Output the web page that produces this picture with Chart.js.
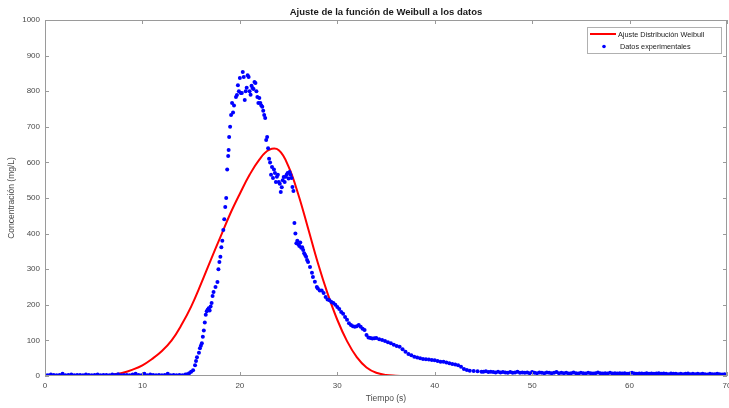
<!DOCTYPE html>
<html><head><meta charset="utf-8">
<script src="https://cdn.jsdelivr.net/npm/chart.js@4/dist/chart.umd.min.js"></script>
<style>html,body{margin:0;padding:0;background:#fff}#wrap{width:729px;height:408px}</style>
</head><body><div id="wrap"><canvas id="c" width="729" height="408"></canvas></div>
<script>
const chartTitle = "Ajuste de la función de Weibull a los datos";
const xTitle = "Tiempo (s)";
const yTitle = "Concentración (mg/L)";
const seriesNames = ["Ajuste Distribución Weibull", "Datos experimentales"];

const xTickValues = [0, 10, 20, 30, 40, 50, 60, 70];
const yTickValues = [0, 100, 200, 300, 400, 500, 600, 700, 800, 900, 1000];

const fitTime  = [0, 1, 2, 3, 4, 5, 6, 7, 8, 9, 10, 11, 12, 13, 14, 15, 16, 17, 18, 19, 20, 21, 22, 23, 24, 25, 26, 27, 28, 29, 30, 31, 32, 33, 34, 35, 36, 37, 38, 39, 40, 50, 60, 70];
const fitValue = [0, 0, 0, 0, 0, 0.3, 1.5, 4, 9, 18, 30, 48, 70, 100, 143, 195, 258, 325, 390, 455, 512, 565, 608, 635, 634, 588, 510, 415, 318, 232, 158, 98, 53, 24, 9, 3, 1, 0, 0, 0, 0, 0, 0, 0];

const dataTime = [
 0,0.3,0.6,0.9,1.2,1.5,1.8,2.1,2.4,2.7,3,3.3,3.6,3.9,4.2,4.5,4.8,5.1,5.4,5.7,6,6.3,6.6,6.9,7.2,7.5,7.8,8.1,8.4,8.7,9,9.3,9.6,9.9,10.2,10.5,10.8,11.1,11.4,11.7,12,12.3,12.6,12.9,13.2,13.5,13.8,14.1,
 14.4,14.6,14.8,15.0,15.2,15.4,15.5,15.6,15.8,15.9,16.0,16.1,16.2,16.3,16.4,16.5,16.6,16.7,16.8,16.9,17.0,17.1,17.2,17.3,17.5,17.7,17.8,17.9,18.0,18.1,18.2,18.3,18.4,
 18.5,18.6,18.7,18.8,18.85,18.9,19.0,19.1,19.2,19.3,19.4,19.6,19.7,19.8,19.9,20.0,20.1,20.2,20.3,20.4,20.5,20.6,20.7,20.8,20.9,21.0,21.1,21.2,21.3,21.4,21.5,21.6,21.7,21.8,21.9,22.0,22.1,22.2,22.3,22.4,22.5,22.6,22.7,22.8,22.9,
 23.0,23.1,23.2,23.3,23.4,23.5,23.6,23.7,23.8,23.9,24.0,24.1,24.2,24.3,24.4,24.5,24.6,24.7,24.8,24.9,25.0,25.1,25.2,25.3,25.4,25.5,25.6,25.7,25.8,25.9,
 26.0,26.1,26.2,26.3,26.4,26.5,26.6,26.7,26.8,26.9,27.0,27.2,27.4,27.5,27.7,27.9,28.0,28.2,28.4,28.6,28.8,29.0,29.2,29.4,29.6,29.8,
 30.0,30.2,30.4,30.6,30.8,31.0,31.2,31.4,31.6,31.8,32.0,32.2,32.4,32.6,32.8,33.0,33.2,33.4,33.6,33.8,34.0,34.3,34.6,34.9,35.2,35.5,35.8,
 36.1,36.4,36.7,37.0,37.3,37.6,37.9,38.2,38.5,38.8,39.1,39.4,39.7,40.0,40.3,40.6,40.9,41.2,41.5,41.8,42.1,42.4,42.7,43.0,43.3,43.6,44.0,44.4,44.8,
 45,45.25,45.5,45.75,46,46.25,46.5,46.75,47,
 47.25,47.5,47.75,48,48.25,48.5,48.75,49,
 49.25,49.5,49.75,50,50.25,50.5,50.75,51,
 51.25,51.5,51.75,52,52.25,52.5,52.75,53,
 53.25,53.5,53.75,54,54.25,54.5,54.75,55,
 55.25,55.5,55.75,56,56.25,56.5,56.75,57,
 57.25,57.5,57.75,58,58.25,58.5,58.75,59,
 59.25,59.5,59.75,60,60.25,60.5,60.75,61,
 61.25,61.5,61.75,62,62.25,62.5,62.75,63,
 63.25,63.5,63.75,64,64.25,64.5,64.75,65,
 65.25,65.5,65.75,66,66.25,66.5,66.75,67,
 67.25,67.5,67.75,68,68.25,68.5,68.75,69,
 69.25,69.5,69.75,70
];
const dataValue = [
 3,2,4,3,2,3,6,2,3,4,2,3,3,2,4,3,2,3,4,2,3,3,2,4,3,5,2,3,3,2,4,6,3,2,6,2,4,3,2,3,2,3,6,2,3,2,3,2,
 4,5,8,12,16,30,42,53,65,78,85,92,110,128,150,172,182,186,190,184,195,205,225,236,250,264,300,320,335,362,380,410,440,
 475,500,580,618,635,671,700,733,767,740,760,784,789,817,800,837,795,795,854,840,775,800,810,845,840,800,790,815,809,806,826,823,800,784,767,781,767,760,756,745,733,725,663,671,640,
 610,600,565,587,556,580,570,545,560,565,545,540,517,530,550,559,545,560,565,570,555,573,565,556,531,520,430,400,373,380,
 370,365,375,360,362,354,345,340,335,326,320,306,290,278,265,250,246,240,240,233,222,215,213,208,205,200,
 194,188,180,175,166,158,148,143,140,138,140,143,138,133,129,115,108,107,105,106,107,103,101,98,95,92,88,
 84,82,75,68,62,58,54,52,50,48,47,46,45,44,42,40,40,38,36,34,32,30,26,20,17,15,14,13,12,
 12,13,11,12,11,10,12,10,11,
 10,9,11,9,10,12,9,10,
 9,10,8,11,9,8,10,9,
 8,10,9,8,9,11,8,9,
 8,9,7,8,10,8,7,9,
 8,7,9,8,7,8,10,8,
 7,8,7,9,7,8,7,8,
 7,8,6,7,9,7,6,7,
 7,6,8,6,7,6,7,8,
 6,7,6,5,7,6,6,5,
 6,5,6,7,5,6,5,6,
 5,6,5,4,6,5,5,6,
 5,4,5,4
];

const axisGray = "#9a9a9a";
const textGray = "#4a4a4a";
const fontFam = "'Liberation Sans', Arial, Helvetica, sans-serif";

const decorPlugin = {
  id: "decor",
  afterDraw(chart) {
    const ctx = chart.ctx;
    const a = chart.chartArea;
    const xs = chart.scales.x, ys = chart.scales.y;
    ctx.save();
    ctx.strokeStyle = axisGray;
    ctx.lineWidth = 1;
    ctx.strokeRect(Math.round(a.left) + 0.5, Math.round(a.top) + 0.5, Math.round(a.right - a.left) - 1, Math.round(a.bottom - a.top) - 1);
    const tl = 4;
    ctx.beginPath();
    xTickValues.forEach(v => {
      const px = Math.round(xs.getPixelForValue(v)) + 0.5;
      ctx.moveTo(px, a.bottom); ctx.lineTo(px, a.bottom - tl);
      ctx.moveTo(px, a.top); ctx.lineTo(px, a.top + tl);
    });
    yTickValues.forEach(v => {
      const py = Math.round(ys.getPixelForValue(v)) + 0.5;
      ctx.moveTo(a.left, py); ctx.lineTo(a.left + tl, py);
      ctx.moveTo(a.right, py); ctx.lineTo(a.right - tl, py);
    });
    ctx.stroke();
    ctx.fillStyle = "#1a1a1a";
    ctx.font = "bold 9.5px " + fontFam;
    ctx.textAlign = "center"; ctx.textBaseline = "middle";
    ctx.fillText(chartTitle, (a.left + a.right) / 2, 12);
    ctx.fillStyle = textGray;
    ctx.font = "8.5px " + fontFam;
    ctx.fillText(xTitle, (a.left + a.right) / 2, 399);
    ctx.save();
    ctx.translate(12, (a.top + a.bottom) / 2);
    ctx.rotate(-Math.PI / 2);
    ctx.fillText(yTitle, 0, 0);
    ctx.restore();
    const lx = 587, ly = 27, lw = 134, lh = 26;
    ctx.fillStyle = "#ffffff";
    ctx.fillRect(lx, ly, lw, lh);
    ctx.strokeStyle = "#b0b0b0";
    ctx.strokeRect(lx + 0.5, ly + 0.5, lw, lh);
    ctx.strokeStyle = "#ff0000"; ctx.lineWidth = 2;
    ctx.beginPath(); ctx.moveTo(590, 34); ctx.lineTo(616, 34); ctx.stroke();
    ctx.fillStyle = "#0000ff";
    ctx.beginPath(); ctx.arc(604, 46.5, 1.8, 0, Math.PI * 2); ctx.fill();
    ctx.fillStyle = "#222";
    ctx.font = "7.3px " + fontFam;
    ctx.textAlign = "left";
    ctx.fillText(seriesNames[0], 618, 34.5);
    ctx.fillText(seriesNames[1], 620, 46.5);
    ctx.restore();
  }
};

const fitPoints = fitTime.map((t, i) => ({ x: t, y: fitValue[i] }));
const dataPoints = dataTime.map((t, i) => ({ x: t, y: dataValue[i] }));

new Chart(document.getElementById("c"), {
  type: "scatter",
  data: {
    datasets: [
      { label: seriesNames[1], data: dataPoints, backgroundColor: "#0000ff", borderColor: "#0000ff",
        pointRadius: 2, pointBorderWidth: 0, showLine: false, order: 0 },
      { label: seriesNames[0], data: fitPoints, type: "line", borderColor: "#ff0000", borderWidth: 2,
        pointRadius: 0, showLine: true, fill: false, tension: 0.4, order: 1 }
    ]
  },
  options: {
    responsive: false,
    animation: false,
    devicePixelRatio: 1,
    layout: { autoPadding: false, padding: { top: 20, right: 2, left: 0, bottom: 0 } },
    plugins: { legend: { display: false }, title: { display: false }, tooltip: { enabled: false } },
    scales: {
      x: {
        type: "linear", min: 0, max: 70,
        afterBuildTicks: s => { s.ticks = xTickValues.map(v => ({ value: v })); },
        afterFit: s => { s.height = 32; s.paddingLeft = 0; s.paddingRight = 0; },
        grid: { display: false, drawTicks: false, tickLength: 0 }, border: { display: false },
        ticks: { padding: 5, color: textGray, font: { size: 8, family: fontFam }, maxRotation: 0,
                 callback: v => String(v) }
      },
      y: {
        min: 0, max: 1000,
        afterBuildTicks: s => { s.ticks = yTickValues.map(v => ({ value: v })); },
        afterFit: s => { s.width = 45; s.paddingTop = 0; s.paddingBottom = 0; },
        grid: { display: false, drawTicks: false, tickLength: 0 }, border: { display: false },
        ticks: { padding: 5, color: textGray, font: { size: 8, family: fontFam },
                 callback: v => String(v) }
      }
    }
  },
  plugins: [decorPlugin]
});
</script>
</body></html>
